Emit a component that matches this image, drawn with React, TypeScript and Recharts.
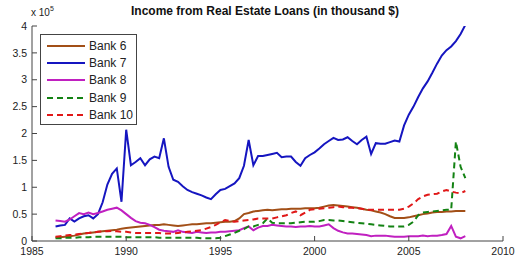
import React from 'react';
import { LineChart, Line, XAxis, YAxis } from 'recharts';

// quarterly samples, 1986 Q2 .. 2008 Q1 (values in 1e5 thousand $)
const startYear = 1986.25;

const bank6 = [
  0.07, 0.07, 0.08, 0.09, 0.10, 0.12, 0.14, 0.15, 0.16, 0.17, 0.18, 0.19, 0.20, 0.21, 0.23, 0.24,
  0.25, 0.26, 0.27, 0.28, 0.29, 0.30, 0.30, 0.31, 0.30, 0.29, 0.28, 0.29, 0.30, 0.31, 0.31, 0.32,
  0.33, 0.33, 0.34, 0.35, 0.36, 0.36, 0.37, 0.42, 0.50, 0.52, 0.55, 0.56, 0.57, 0.58, 0.57, 0.58,
  0.59, 0.59, 0.60, 0.60, 0.60, 0.61, 0.61, 0.61, 0.62, 0.64, 0.66, 0.67, 0.66, 0.65, 0.64, 0.63,
  0.62, 0.60, 0.58, 0.57, 0.55, 0.53, 0.50, 0.46, 0.43, 0.43, 0.43, 0.44, 0.46, 0.48, 0.50, 0.51,
  0.53, 0.54, 0.54, 0.55, 0.55, 0.56, 0.56, 0.56,
];

const bank7 = [
  0.27, 0.29, 0.30, 0.42, 0.36, 0.42, 0.46, 0.48, 0.42, 0.50, 0.72, 1.05, 1.25, 1.35, 0.73, 2.07,
  1.41, 1.47, 1.54, 1.41, 1.52, 1.57, 1.54, 1.91, 1.38, 1.14, 1.10, 1.02, 0.95, 0.91, 0.88, 0.85,
  0.81, 0.78, 0.87, 0.95, 0.97, 1.02, 1.07, 1.17, 1.40, 1.88, 1.41, 1.58, 1.58, 1.60, 1.62, 1.64,
  1.56, 1.57, 1.57, 1.47, 1.40, 1.54, 1.60, 1.65, 1.72, 1.80, 1.86, 1.92, 1.88, 1.89, 1.93, 1.86,
  1.80, 1.88, 1.94, 1.62, 1.82, 1.81, 1.81, 1.84, 1.87, 1.85, 2.15, 2.35, 2.50, 2.68, 2.84, 2.97,
  3.13, 3.30, 3.45, 3.55, 3.62, 3.72, 3.85, 4.02,
];

const bank8 = [
  0.38, 0.37, 0.36, 0.40, 0.46, 0.52, 0.50, 0.53, 0.50, 0.52, 0.55, 0.58, 0.60, 0.62, 0.57, 0.50,
  0.43, 0.37, 0.34, 0.33, 0.30, 0.26, 0.21, 0.19, 0.18, 0.17, 0.20, 0.17, 0.16, 0.15, 0.17, 0.16,
  0.15, 0.16, 0.16, 0.17, 0.17, 0.18, 0.19, 0.20, 0.24, 0.27, 0.20, 0.25, 0.28, 0.28, 0.30, 0.29,
  0.28, 0.27, 0.27, 0.26, 0.27, 0.27, 0.28, 0.27, 0.27, 0.29, 0.31, 0.24, 0.19, 0.16, 0.14, 0.14,
  0.13, 0.12, 0.11, 0.09, 0.10, 0.10, 0.10, 0.09, 0.08, 0.08, 0.08, 0.09, 0.09, 0.09, 0.10, 0.09,
  0.10, 0.10, 0.11, 0.13, 0.28, 0.08, 0.05, 0.09,
];

const bank9 = [
  0.05, 0.05, 0.06, 0.06, 0.06, 0.07, 0.07, 0.07, 0.08, 0.08, 0.08, 0.08, 0.08, 0.08, 0.08, 0.07,
  0.07, 0.07, 0.07, 0.07, 0.07, 0.07, 0.06, 0.06, 0.06, 0.06, 0.06, 0.06, 0.06, 0.06, 0.06, 0.05,
  0.05, 0.05, 0.05, 0.06, 0.09, 0.12, 0.15, 0.19, 0.22, 0.27, 0.27, 0.30, 0.33, 0.42, 0.34, 0.33,
  0.33, 0.33, 0.33, 0.34, 0.35, 0.36, 0.36, 0.36, 0.37, 0.39, 0.39, 0.38, 0.38, 0.37, 0.36, 0.35,
  0.34, 0.33, 0.32, 0.31, 0.30, 0.29, 0.28, 0.27, 0.27, 0.27, 0.27, 0.30, 0.36, 0.48, 0.53, 0.54,
  0.55, 0.56, 0.57, 0.58, 0.58, 1.85, 1.38, 1.17,
];

const bank10 = [
  0.08, 0.09, 0.10, 0.11, 0.12, 0.13, 0.14, 0.15, 0.16, 0.17, 0.18, 0.18, 0.19, 0.18, 0.17, 0.17,
  0.16, 0.15, 0.15, 0.15, 0.15, 0.15, 0.15, 0.14, 0.14, 0.14, 0.15, 0.16, 0.17, 0.18, 0.19, 0.20,
  0.23, 0.26, 0.30, 0.35, 0.39, 0.37, 0.36, 0.37, 0.38, 0.39, 0.40, 0.42, 0.42, 0.42, 0.42, 0.44,
  0.46, 0.48, 0.52, 0.55, 0.48, 0.53, 0.58, 0.59, 0.60, 0.61, 0.62, 0.63, 0.64, 0.63, 0.62, 0.62,
  0.61, 0.60, 0.58, 0.58, 0.58, 0.58, 0.58, 0.58, 0.58, 0.58, 0.60, 0.64, 0.70, 0.78, 0.83, 0.86,
  0.87, 0.88, 0.92, 0.95, 0.92, 0.90, 0.89, 0.93,
];

const xTicks = [1985, 1990, 1995, 2000, 2005, 2010];
const yTicks = [0, 0.5, 1, 1.5, 2, 2.5, 3, 3.5, 4];

const series = [
  { key: 'bank6', name: 'Bank 6', color: '#a24f17', dash: undefined },
  { key: 'bank7', name: 'Bank 7', color: '#1515c0', dash: undefined },
  { key: 'bank8', name: 'Bank 8', color: '#c020c0', dash: undefined },
  { key: 'bank9', name: 'Bank 9', color: '#138213', dash: '6 4' },
  { key: 'bank10', name: 'Bank 10', color: '#e01818', dash: '6 4' },
];

const data = bank6.map((v, i) => ({
  year: startYear + i * 0.25,
  bank6: v,
  bank7: bank7[i],
  bank8: bank8[i],
  bank9: bank9[i],
  bank10: bank10[i],
}));

const font = '"Liberation Sans", Arial, sans-serif';
const axisColor = '#444';

const LegendBox = () => (
  <div
    style={{
      position: 'absolute',
      left: 40,
      top: 34,
      border: `1px solid ${axisColor}`,
      background: '#fff',
      width: 97,
      height: 91,
      boxSizing: 'border-box',
      paddingTop: 2,
      fontFamily: font,
      fontSize: 12,
      color: '#222',
    }}
  >
    {series.map((s) => (
      <div key={s.key} style={{ display: 'flex', alignItems: 'center', height: 17.4 }}>
        <svg width={45} height={6} style={{ marginLeft: 3 }}>
          <line x1={3} y1={3} x2={41} y2={3} stroke={s.color} strokeWidth={2} strokeDasharray={s.dash} />
        </svg>
        <span>{s.name}</span>
      </div>
    ))}
  </div>
);

export default function App() {
  return (
    <div style={{ position: 'absolute', left: 0, top: 0, width: 526, height: 263, background: '#fff' }}>
      <div
        style={{
          position: 'absolute', left: 32, width: 466, top: 4, textAlign: 'center',
          fontFamily: font, fontWeight: 'bold', fontSize: 12, color: '#111',
        }}
      >
        Income from Real Estate Loans (in thousand $)
      </div>
      <div style={{ position: 'absolute', left: 31, top: 6, fontFamily: font, fontSize: 10, color: '#222' }}>
        x 10<sup style={{ fontSize: 7, position: 'relative', top: -1 }}>5</sup>
      </div>
      <LineChart
        width={526}
        height={263}
        data={data}
        margin={{ top: 26, right: 23, bottom: 0, left: 0 }}
        style={{ fontFamily: font }}
      >
        <XAxis
          dataKey="year"
          type="number"
          domain={[1985, 2010]}
          ticks={xTicks}
          interval={0}
          allowDataOverflow
          height={22}
          stroke={axisColor}
          tickSize={-5}
          tickMargin={12}
          tick={{ fontSize: 10.5, fill: '#222' }}
        />
        <XAxis
          xAxisId="top"
          orientation="top"
          dataKey="year"
          type="number"
          domain={[1985, 2010]}
          ticks={xTicks}
          interval={0}
          height={0}
          stroke={axisColor}
          tickSize={-5}
          tick={false}
        />
        <YAxis
          type="number"
          domain={[0, 4]}
          ticks={yTicks}
          interval={0}
          allowDataOverflow
          width={32}
          stroke={axisColor}
          tickSize={-5}
          tickMargin={10}
          tick={{ fontSize: 10.5, fill: '#222' }}
        />
        <YAxis
          yAxisId="right"
          orientation="right"
          type="number"
          domain={[0, 4]}
          ticks={yTicks}
          interval={0}
          width={0}
          stroke={axisColor}
          tickSize={-5}
          tick={false}
        />
        {series.map((s) => (
          <Line
            key={s.key}
            type="linear"
            dataKey={s.key}
            name={s.name}
            stroke={s.color}
            strokeWidth={2}
            strokeDasharray={s.dash}
            dot={false}
            isAnimationActive={false}
          />
        ))}
      </LineChart>
      <LegendBox />
    </div>
  );
}
